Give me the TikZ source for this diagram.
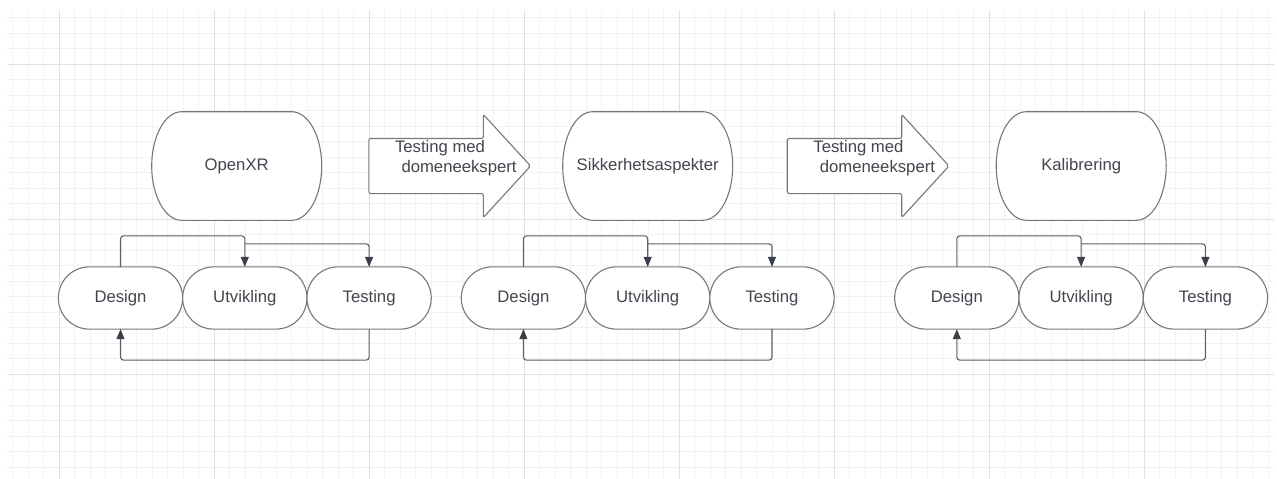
\documentclass[tikz,border=0pt]{standalone}
\usepackage{fontspec}
\setmainfont{Liberation Sans}
\usetikzlibrary{arrows.meta}
\usetikzlibrary{positioning, calc}
\usetikzlibrary{shapes.misc, shapes.arrows}

\definecolor{gridminor}{RGB}{242,242,242}
\definecolor{gridmajor}{RGB}{225,225,225}
\definecolor{shapeline}{RGB}{118,120,124}
\definecolor{linkline}{RGB}{92,97,104}
\definecolor{headfill}{RGB}{58,64,74}
\definecolor{textgray}{RGB}{66,70,78}

\begin{document}
\begin{tikzpicture}[
    x=1pt, y=-1pt,
    font=\fontsize{16.7}{20}\selectfont,
    minor/.style={gridminor, line width=1pt},
    major/.style={gridmajor, line width=1pt},
    outline/.style={shapeline, line width=1.1pt},
    stage/.style={outline, draw, fill=white, text=textgray, rounded rectangle, minimum width=124.3pt, minimum height=62.3pt, inner sep=0pt, outer sep=0pt},
    topic/.style={text=textgray, minimum width=170pt, minimum height=108.3pt, inner sep=0pt},
    flow arrow/.style={outline, draw, fill=white, single arrow, single arrow head extend=24pt, single arrow tip angle=95, minimum height=161.7pt, inner xsep=0pt, inner ysep=27pt, rounded corners=2pt, anchor=tail},
    hint/.style={text=textgray, align=left, inner sep=0pt, anchor=west},
    link/.style={linkline, line width=1.1pt, rounded corners=3pt, -{Triangle[length=10pt, width=8pt, color=headfill]}}
]
    \useasboundingbox (0,0) rectangle (1277,479);
    \fill[white] (0,0) rectangle (1277,479);

    % Background grid:
    \foreach \k in {-3,...,78} \draw[minor] ({59.3+15.5*\k}, 10) -- ++(0, 469);
    \foreach \k in {-3,...,26} \draw[minor] (7, {64.3+15.5*\k}) -- ++(1267, 0);
    \foreach \k in {0,...,7} \draw[major] ({59.3+155*\k}, 10) -- ++(0, 469);
    \foreach \k in {0,1,2} \draw[major] (7, {64.3+155*\k}) -- ++(1267, 0);

    % One phase: topic on top, design loop below
    \foreach \dx/\tx/\lbl [count=\i] in {120.5/236.7/OpenXR, 523.4/647.7/Sikkerhetsaspekter, 956.8/1081.2/Kalibrering} {
        \draw[outline, fill=white] (\tx-55, 111.7) -- (\tx+55, 111.7)
            arc[start angle=90, end angle=-90, x radius=30pt, y radius=54.3pt]
            -- (\tx-55, 220.3)
            arc[start angle=270, end angle=90, x radius=30pt, y radius=54.3pt] -- cycle;
        \draw (\tx, 166) node[topic] (o\i) {\lbl};

        \draw (\dx, 298) node[stage] (d\i) {Design};
        \draw node[stage, right=0pt of d\i] (u\i) {Utvikling};
        \draw node[stage, right=0pt of u\i] (t\i) {Testing};

        \draw[link] (d\i.north) -- ++(0,-31) -| (u\i.north);
        \draw[link] ([yshift=23pt]u\i.north) -| (t\i.north);
        \draw[link] (t\i.south) -- ++(0,31) -| (d\i.south);
    }

    % Arrows between the phases:
    \foreach \ax [count=\j] in {368.3, 786.7} {
        \draw (\ax, 166) node[flow arrow] (a\j) {};
        \draw ([xshift=26.5pt, yshift=7.7pt]a\j.tail) node[hint] (h\j) {Testing med\\\hspace*{6.5pt}domeneekspert};
    }

\end{tikzpicture}
\end{document}
